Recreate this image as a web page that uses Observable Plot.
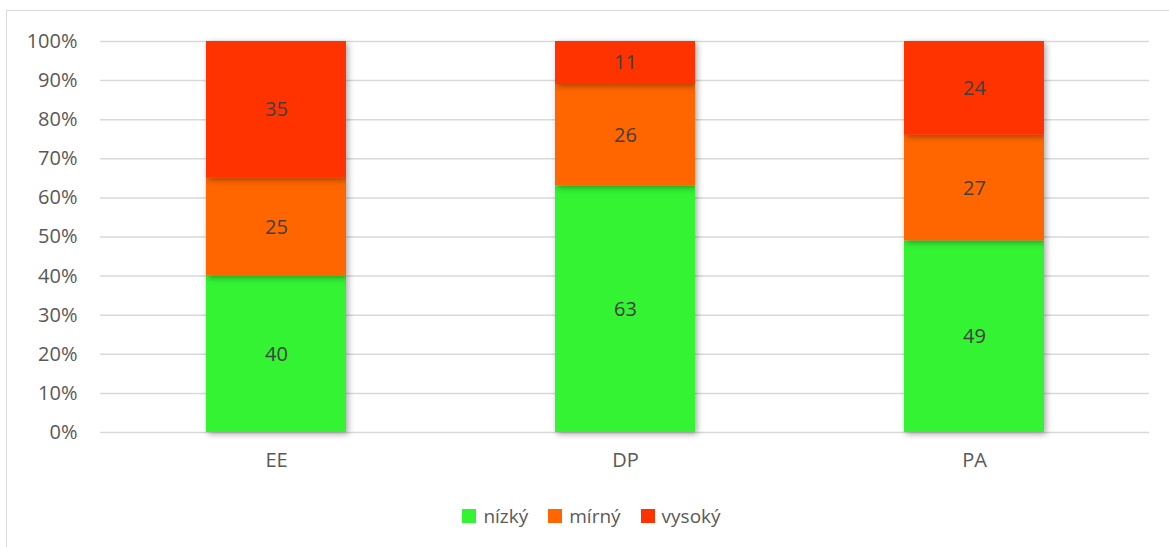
<!DOCTYPE html>
<html>
<head>
<meta charset="utf-8">
<script src="https://cdn.jsdelivr.net/npm/d3@7"></script>
<script src="https://cdn.jsdelivr.net/npm/@observablehq/plot@0.6"></script>
<style>
  html, body { margin: 0; padding: 0; background: #fff; }
  body { width: 1169px; height: 547px; position: relative; overflow: hidden; font-family: "Open Sans", sans-serif; }
  #frame { position: absolute; left: 6px; top: 10px; width: 1200px; height: 600px; border: 1px solid #d9d9d9; box-sizing: border-box; }
  #chart { position: absolute; left: 0; top: 0; }
  #legend { position: absolute; left: 0; top: 503px; width: 1169px; display: flex; justify-content: center; gap: 20px; font-size: 19px; color: #595959; padding-left: 14px; box-sizing: border-box; }
  #legend .item { display: flex; align-items: center; gap: 7px; }
  #legend .sw { width: 14px; height: 14px; display: inline-block; }
  .bars rect { filter: drop-shadow(2px 2px 3px rgba(0,0,0,0.35)); }
</style>
</head>
<body>
<div id="frame"></div>
<div id="chart"></div>
<div id="legend"></div>
<script>
const categories = ["EE", "DP", "PA"];
const levels = ["nízký", "mírný", "vysoký"];
const nizky = [40, 63, 49];
const mirny = [25, 26, 27];
const vysoky = [35, 11, 24];
const colors = ["#33f333", "#ff6600", "#ff3300"];
const yTicks = [0, 10, 20, 30, 40, 50, 60, 70, 80, 90, 100];

const series = [nizky, mirny, vysoky];
const data = [];
levels.forEach((lv, i) => {
  categories.forEach((c, j) => data.push({category: c, level: lv, value: series[i][j]}));
});

const chart = Plot.plot({
  width: 1169,
  height: 490,
  marginTop: 41,
  marginBottom: 58,
  marginLeft: 100,
  marginRight: 20,
  style: {fontFamily: "'Open Sans', sans-serif", fontSize: "20px", color: "#595959", background: "transparent"},
  x: {domain: categories, paddingInner: 0.6, paddingOuter: 0.3, label: null, tickSize: 0, tickPadding: 20},
  y: {domain: [0, 100], ticks: yTicks, tickFormat: d => d + "%", label: null, tickSize: 0, tickPadding: 23},
  color: {domain: levels, range: colors},
  marks: [
    Plot.ruleY(yTicks, {stroke: "#d9d9d9", strokeWidth: 1.5}),
    Plot.barY(data, Plot.stackY({x: "category", y: "value", fill: "level", z: "level", className: "bars"})),
    Plot.text(data, Plot.stackY({x: "category", y: "value", z: "level", text: d => String(d.value), fill: "#404040", fontSize: 20}))
  ]
});
document.getElementById("chart").appendChild(chart);

const legend = document.getElementById("legend");
levels.forEach((lv, i) => {
  const item = document.createElement("div");
  item.className = "item";
  const sw = document.createElement("span");
  sw.className = "sw";
  sw.style.background = colors[i];
  const t = document.createElement("span");
  t.textContent = lv;
  item.appendChild(sw);
  item.appendChild(t);
  legend.appendChild(item);
});
</script>
</body>
</html>
